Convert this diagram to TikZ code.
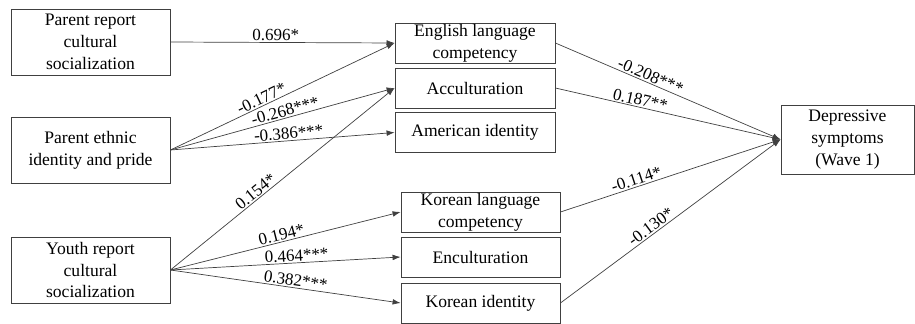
\documentclass[tikz,border=0pt]{standalone}
\usepackage{fontspec}
\setmainfont{Liberation Serif}
\usepackage{tikz}
\usetikzlibrary{arrows.meta}

\begin{document}
\begin{tikzpicture}[
    box/.style={draw=black!75, line width=0.7pt, inner sep=0pt, align=center,
        font=\fontsize{15}{18.5}\selectfont},
    coef/.style={sloped, above, inner sep=1pt, font=\fontsize{14.5}{17}\selectfont},
    path/.style={draw=black!75, line width=0.6pt, -{Latex[length=2.4mm,width=1.7mm]}}
]
    \useasboundingbox (0,0) rectangle (27.45,9.69);

    \node[box, minimum width=4.77cm, minimum height=1.98cm] (pr) at (2.715,8.43) {Parent report\\cultural\\socialization};
    \node[box, minimum width=4.77cm, minimum height=1.98cm] (pe) at (2.715,5.19) {Parent ethnic\\identity and pride};
    \node[box, minimum width=4.77cm, minimum height=1.98cm] (yr) at (2.715,1.59) {Youth report\\cultural\\socialization};

    \node[box, minimum width=4.8cm, minimum height=1.2cm] (eng) at (14.25,8.40) {English language\\competency};
    \node[box, minimum width=4.8cm, minimum height=1.2cm] (acc) at (14.25,7.05) {Acculturation};
    \node[box, minimum width=4.8cm, minimum height=1.2cm] (ami) at (14.25,5.715) {American identity};

    \node[box, minimum width=4.77cm, minimum height=1.2cm] (kor) at (14.415,3.33) {Korean language\\competency};
    \node[box, minimum width=4.77cm, minimum height=1.2cm] (enc) at (14.415,1.98) {Enculturation};
    \node[box, minimum width=4.77cm, minimum height=1.2cm] (kid) at (14.415,0.60) {Korean identity};

    \node[box, minimum width=3.99cm, minimum height=2.07cm] (dep) at (25.425,5.505) {Depressive\\symptoms\\(Wave 1)};

    \draw[path] (pr.east) -- node[coef, pos=0.47] {0.696*} (eng.west);
    \draw[path] (pe.east) -- node[coef, pos=0.42] {-0.177*} (eng.west);
    \draw[path] (pe.east) -- node[coef, pos=0.52] {-0.268***} (acc.west);
    \draw[path] (pe.east) -- node[coef, pos=0.53] {-0.386***} (ami.west);

    \draw[path] (yr.east) -- node[coef, pos=0.40] {0.154*} (acc.west);
    \draw[path] (yr.east) -- node[coef, pos=0.49] {0.194*} (kor.west);
    \draw[path] (yr.east) -- node[coef, pos=0.55] {0.464***} (enc.west);
    \draw[path] (yr.east) -- node[coef, pos=0.54] {0.382***} (kid.west);

    \draw[path] (eng.east) -- node[coef, pos=0.41] {-0.208***} (dep.west);
    \draw[path] (acc.east) -- node[coef, pos=0.37] {0.187**} (dep.west);
    \draw[path] (kor.east) -- node[coef, pos=0.355] {-0.114*} (dep.west);
    \draw[path] (kid.east) -- node[coef, pos=0.43] {-0.130*} (dep.west);
\end{tikzpicture}
\end{document}
